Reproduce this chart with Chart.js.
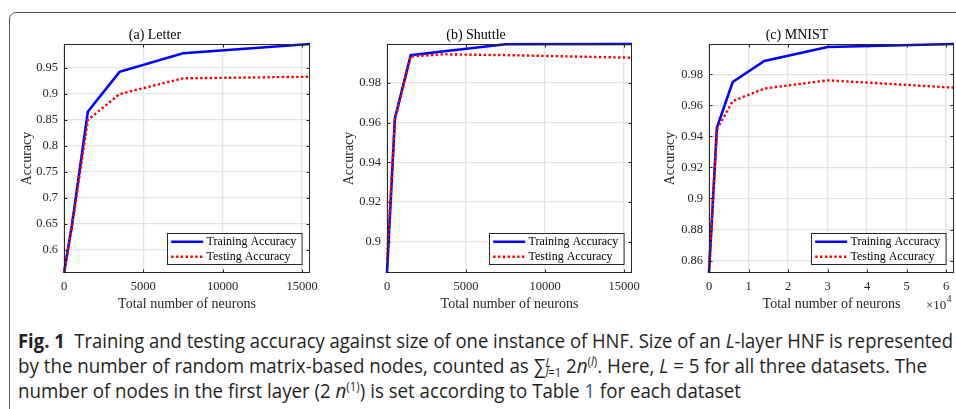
<!DOCTYPE html>
<html><head><meta charset="utf-8">
<script src="https://cdn.jsdelivr.net/npm/chart.js@4.4.1/dist/chart.umd.min.js"></script>
<style>
html,body{margin:0;padding:0;background:#fff;width:956px;height:409px;overflow:hidden;}
body{position:relative;}
#frame{position:absolute;left:9px;top:12px;width:1000px;height:500px;border:1px solid #555;border-radius:7px;box-sizing:border-box;}
canvas{position:absolute;top:20px;}
.cap{position:absolute;left:18px;white-space:nowrap;font-family:"Open Sans",sans-serif;font-size:19.5px;color:#231f20;transform-origin:0 50%;line-height:24px;}
.cap b{font-weight:700;}
.stk{display:inline-block;vertical-align:-0.3em;line-height:0.85;font-size:0.6em;text-align:left;}
.cap sup{font-size:0.62em;vertical-align:0.55em;line-height:0;}
.blue{color:#2a5db0;}
</style>
</head><body>
<div id="frame"></div>
<canvas id="c1" width="320" height="295" style="left:0px;width:320px;height:295px"></canvas>
<canvas id="c2" width="320" height="295" style="left:320px;width:320px;height:295px"></canvas>
<canvas id="c3" width="316" height="295" style="left:640px;width:316px;height:295px"></canvas>
<div class="cap" id="l1" style="top:329px"><b>Fig. 1</b>&nbsp; Training and testing accuracy against size of one instance of HNF. Size of an <i>L</i>-layer HNF is represented</div>
<div class="cap" id="l2" style="top:354px">by the number of random matrix-based nodes, counted as <span>&sum;</span><span class="stk"><i>L</i><br><i>l</i>=1</span> 2<i>n</i><sup>(<i>l</i>)</sup>. Here, <i>L</i> = 5 for all three datasets. The</div>
<div class="cap" id="l3" style="top:379px">number of nodes in the first layer (2 <i>n</i><sup>(1)</sup>) is set according to Table <span class="blue">1</span> for each dataset</div>
<script>
// ---- data ----
const panelTitles = ['(a) Letter', '(b) Shuttle', '(c) MNIST'];
const seriesLabels = ['Training Accuracy', 'Testing Accuracy'];
const xAxisTitle = 'Total number of neurons';
const yAxisTitle = 'Accuracy';

const xLetter = [0, 500, 1500, 3500, 7500, 15500];
const letterTrain = [0.556, 0.648, 0.8655, 0.942, 0.9776, 0.9955];
const letterTest  = [0.556, 0.645, 0.8496, 0.8995, 0.9296, 0.9327];
const letterXTicks = [0, 5000, 10000, 15000];
const letterYTicks = [0.6, 0.65, 0.7, 0.75, 0.8, 0.85, 0.9, 0.95];

const xShuttle = [0, 500, 1500, 3500, 7500, 15500];
const shuttleTrain = [0.8843, 0.9621, 0.9939, 0.9957, 0.9994, 0.9995];
const shuttleTest  = [0.8910, 0.9615, 0.9932, 0.9943, 0.9939, 0.9926];
const shuttleXTicks = [0, 5000, 10000, 15000];
const shuttleYTicks = [0.9, 0.92, 0.94, 0.96, 0.98];

const xMnist = [0, 2000, 6000, 14000, 30000, 62000];
const mnistTrain = [0.852, 0.9456, 0.9750, 0.9886, 0.9976, 0.9995];
const mnistTest  = [0.855, 0.9445, 0.9627, 0.9708, 0.9761, 0.9714];
const mnistXTicks = [0, 10000, 20000, 30000, 40000, 50000, 60000];
const mnistYTicks = [0.86, 0.88, 0.9, 0.92, 0.94, 0.96, 0.98];

const SERIF = '"Liberation Serif","Times New Roman",serif';
const TXT = '#262626';
const GRID = '#e4e4e4';

const boxPlugin = {
  id: 'boxPlugin',
  afterDatasetsDraw(chart, args, opts) {
    const {ctx, chartArea: a, scales: {x, y}} = chart;
    ctx.save();
    ctx.strokeStyle = TXT; ctx.lineWidth = 1;
    const L = Math.round(a.left) + 0.5, R = Math.round(a.right) - 0.5;
    const T = Math.round(a.top) + 0.5, B = Math.round(a.bottom) - 0.5;
    ctx.strokeRect(L, T, R - L, B - T);
    ctx.beginPath();
    x.ticks.forEach(t => {
      const px = Math.round(x.getPixelForValue(t.value)) + 0.5;
      if (px - L < 1 || R - px < 1) return;
      ctx.moveTo(px, B); ctx.lineTo(px, B - 3);
      ctx.moveTo(px, T); ctx.lineTo(px, T + 3);
    });
    y.ticks.forEach(t => {
      const py = Math.round(y.getPixelForValue(t.value)) + 0.5;
      if (py - T < 1 || B - py < 1) return;
      ctx.moveTo(L, py); ctx.lineTo(L + 3, py);
      ctx.moveTo(R, py); ctx.lineTo(R - 3, py);
    });
    ctx.stroke();
    // legend
    ctx.font = '12px ' + SERIF;
    const ds = chart.data.datasets;
    const tw = Math.max(...ds.map(d => ctx.measureText(d.label).width));
    const w = 3.7 + 32 + 3.3 + tw + 5.7, h = 31;
    const bx = Math.round(a.right - 8.5 - w) + 0.5, by = Math.round(a.bottom - 9 - h) + 0.5;
    ctx.fillStyle = '#fff';
    ctx.fillRect(bx, by, w, h);
    ctx.strokeStyle = TXT; ctx.lineWidth = 1; ctx.setLineDash([]);
    ctx.strokeRect(bx, by, w, h);
    ds.forEach((d, i) => {
      const ry = by + 8.2 + i * 15;
      ctx.beginPath();
      ctx.strokeStyle = d.borderColor; ctx.lineWidth = d.borderWidth;
      ctx.setLineDash(d.borderDash || []);
      ctx.moveTo(bx + 3.7, ry); ctx.lineTo(bx + 3.7 + 32, ry);
      ctx.stroke();
      ctx.setLineDash([]);
      ctx.fillStyle = '#000'; ctx.textBaseline = 'middle'; ctx.textAlign = 'left';
      ctx.fillText(d.label, bx + 3.7 + 32 + 3.3, ry + 0.5);
    });
    if (opts && opts.exponent) {
      ctx.fillStyle = TXT; ctx.textAlign = 'left'; ctx.textBaseline = 'middle';
      ctx.font = '13px ' + SERIF;
      ctx.fillText('\u00d710', 286, 286);
      const ww = ctx.measureText('\u00d710').width;
      ctx.font = '9.5px ' + SERIF;
      ctx.fillText(opts.exponent, 286 + ww + 0.5, 279);
    }
    ctx.restore();
  }
};

function panel(id, title, xs, train, test, xTicks, yTicks, cfg) {
  const all = train.concat(test);
  const ymin = Math.min(...all), ymax = Math.max(...all);
  const pts = arr => xs.map((v, i) => ({x: v, y: arr[i]}));
  return new Chart(document.getElementById(id), {
    type: 'line',
    data: {datasets: [
      {label: seriesLabels[0], data: pts(train), borderColor: '#0000ff', borderWidth: 2.6,
       pointRadius: 0, tension: 0, fill: false, clip: false, order: 1},
      {label: seriesLabels[1], data: pts(test), borderColor: '#ff0000', borderWidth: 2.4,
       borderDash: [2.4, 2.4], pointRadius: 0, tension: 0, fill: false, clip: false, order: 0}
    ]},
    plugins: [boxPlugin],
    options: {
      responsive: false, animation: false, devicePixelRatio: 1,
      layout: {padding: {left: 0, right: cfg.padR, top: 0, bottom: 0}},
      plugins: {
        legend: {display: false}, tooltip: {enabled: false},
        title: {display: true, text: title, color: '#000',
                font: {family: SERIF, size: 14, weight: 'normal'}, padding: {top: 6.6, bottom: 0.6}},
        boxPlugin: {exponent: cfg.exponent || null}
      },
      scales: {
        x: {type: 'linear', min: 0, max: xs[xs.length - 1],
            grid: {color: GRID, lineWidth: 1.3, drawTicks: false}, border: {display: false},
            ticks: {color: TXT, padding: 6,
                    font: {family: SERIF, size: 12.5}, maxRotation: 0, autoSkip: false,
                    callback: v => String(v / (cfg.xDiv || 1))},
            afterBuildTicks: s => { s.ticks = xTicks.map(v => ({value: v})); },
            title: {display: true, text: xAxisTitle, color: TXT,
                    font: {family: SERIF, size: 14}, padding: {top: 0, bottom: 2.6}},
            afterFit: s => { s.height = 42; s.paddingLeft = 0; s.paddingRight = 0; }},
        y: {type: 'linear', min: ymin, max: ymax,
            grid: {color: GRID, lineWidth: 1.3, drawTicks: false}, border: {display: false},
            ticks: {color: TXT, padding: 6,
                    font: {family: SERIF, size: 12.5}, autoSkip: false,
                    callback: v => String(parseFloat(v.toFixed(4)))},
            afterBuildTicks: s => { s.ticks = yTicks.map(v => ({value: v})); },
            title: {display: true, text: yAxisTitle, color: TXT,
                    font: {family: SERIF, size: 14}, padding: {top: cfg.yTitlePad, bottom: 0}},
            afterFit: s => { s.width = cfg.yW; s.paddingTop = 0; s.paddingBottom = 0; }}
      }
    }
  });
}

panel('c1', panelTitles[0], xLetter, letterTrain, letterTest, letterXTicks, letterYTicks,
      {padR: 10, yW: 64, yTitlePad: 18.6});
panel('c2', panelTitles[1], xShuttle, shuttleTrain, shuttleTest, shuttleXTicks, shuttleYTicks,
      {padR: 8, yW: 67, yTitlePad: 20.9});
panel('c3', panelTitles[2], xMnist, mnistTrain, mnistTest, mnistXTicks, mnistYTicks,
      {padR: 2, yW: 69, yTitlePad: 22.3, xDiv: 10000, exponent: '4'});

const capWidths = {l1: 935, l2: 909, l3: 723};
Object.keys(capWidths).forEach(k => {
  const el = document.getElementById(k);
  const w = el.getBoundingClientRect().width;
  el.style.transform = 'scaleX(' + (capWidths[k] / w) + ')';
});
</script>
</body></html>
